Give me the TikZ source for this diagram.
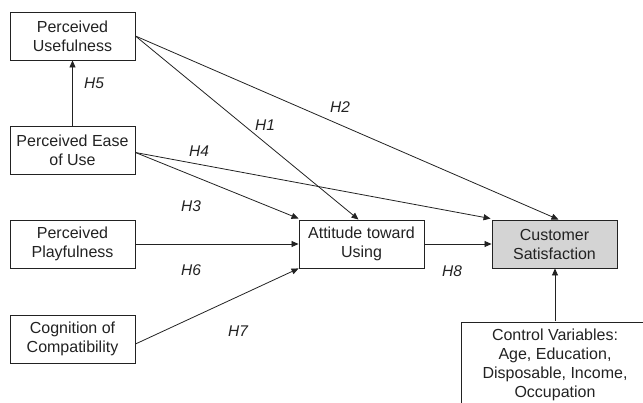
\documentclass[tikz,border=0pt]{standalone}
\usepackage{fontspec}
\setmainfont{Liberation Sans}
\usetikzlibrary{arrows.meta,calc}
\definecolor{ink}{HTML}{222222}
\definecolor{fillgray}{HTML}{D4D4D4}
\tikzset{
  box/.style={draw=ink, line width=0.9pt, minimum width=125pt, minimum height=48pt,
    align=center, inner sep=2pt, text=ink, font=\fontsize{16}{19}\selectfont},
  conn/.style={draw=ink, line width=0.8pt, -{Triangle[length=7pt,width=6pt]}},
  hlab/.style={text=ink, font=\fontsize{15.5}{18}\selectfont\itshape, inner sep=0pt}
}
\begin{document}
\begin{tikzpicture}[x=1pt,y=-1pt]
\useasboundingbox (0,0) rectangle (643,402);
\clip (0,0) rectangle (643,402);
\node[box] (PU) at (72.5,36) {Perceived\\Usefulness};
\node[box] (PEOU) at (72.5,150.5) {Perceived Ease\\of Use};
\node[box] (PP) at (72.5,244) {Perceived\\Playfulness};
\node[box] (CC) at (72.5,339) {Cognition of\\Compatibility};
\node[box] (ATU) at (361.5,244) {Attitude toward\\Using};
\node[box, fill=fillgray] (CS) at (554.5,244) {Customer\\Satisfaction};
\node[box, minimum width=188pt, minimum height=86pt] (CV) at (555,365)
  {Control Variables:\\Age, Education,\\Disposable, Income,\\Occupation};

\draw[conn] (PEOU.north) -- (PU.south);
\draw[conn] (PU.east) -- ($(ATU.north)+(-3,0)$);
\draw[conn] (PU.east) -- ($(CS.north)+(4,0)$);
\draw[conn] ($(PEOU.east)+(0,2)$) -- ($(ATU.north west)+(0,-1)$);
\draw[conn] ($(PEOU.east)+(0,2)$) -- ($(CS.north west)+(-1,-1)$);
\draw[conn] (PP.east) -- (ATU.west);
\draw[conn] ($(CC.east)+(0,5)$) -- (ATU.south west);
\draw[conn] (ATU.east) -- (CS.west);
\draw[conn] (CV.north |- 0,321) -- (CS.south -| CV.north);

\node[hlab] (h5) at (94,83) {H5};
\node[hlab] (h1) at (265,125) {H1};
\node[hlab] (h2) at (340,107) {H2};
\node[hlab] (h4) at (199,151) {H4};
\node[hlab] (h3) at (191,206) {H3};
\node[hlab] (h6) at (191,270) {H6};
\node[hlab] (h7) at (238,331) {H7};
\node[hlab] (h8) at (452,271) {H8};
\end{tikzpicture}
\end{document}
